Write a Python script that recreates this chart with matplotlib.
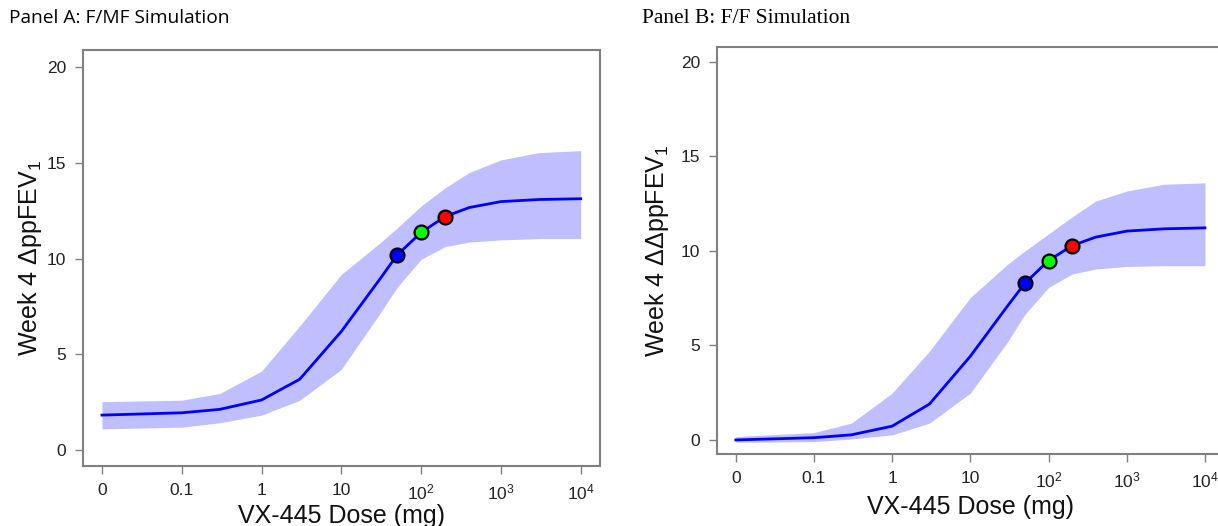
import numpy as np
import matplotlib
matplotlib.use('Agg')
import matplotlib.pyplot as plt
from matplotlib.ticker import NullLocator

plt.rcParams['font.family'] = ['Liberation Sans', 'DejaVu Sans']
plt.rcParams['mathtext.fontset'] = 'custom'
plt.rcParams['mathtext.rm'] = 'Liberation Sans'

# doses (mg); 0 is drawn at the 0.01 position of the log axis
dose = [0, 0.1, 0.3, 1, 3, 10, 30, 50, 100, 200, 400, 1000, 3000, 10000]

# Panel A: F/MF
a_mean = [1.83, 1.95, 2.13, 2.62, 3.70, 6.20, 8.90, 10.19, 11.37, 12.20, 12.67, 12.98, 13.09, 13.13]
a_lo = [1.11, 1.20, 1.43, 1.83, 2.60, 4.22, 7.10, 8.50, 9.97, 10.63, 10.87, 10.98, 11.05, 11.05]
a_hi = [2.53, 2.61, 2.96, 4.13, 6.48, 9.18, 10.80, 11.60, 12.75, 13.70, 14.50, 15.16, 15.54, 15.64]

# Panel B: F/F
b_mean = [0.00, 0.12, 0.27, 0.73, 1.90, 4.43, 7.10, 8.30, 9.49, 10.28, 10.73, 11.05, 11.17, 11.22]
b_lo = [-0.12, -0.09, 0.05, 0.27, 0.89, 2.48, 5.20, 6.65, 8.07, 8.78, 9.04, 9.18, 9.22, 9.22]
b_hi = [0.18, 0.39, 0.89, 2.48, 4.70, 7.54, 9.30, 10.00, 10.90, 11.80, 12.64, 13.17, 13.53, 13.60]

# highlighted doses and their colours
mark_dose = [50, 100, 200]
mark_col = ['#0000ff', '#00ff00', '#ff0000']

xticks = [0.01, 0.1, 1, 10, 100, 1000, 10000]
xlabels = ['0', '0.1', '1', '10', r'$\mathregular{10^2}$', r'$\mathregular{10^3}$', r'$\mathregular{10^4}$']

fig = plt.figure(figsize=(12.18, 5.26), dpi=100)
axA = fig.add_axes([0.068, 0.114, 0.4245, 0.791])
axB = fig.add_axes([0.5887, 0.137, 0.416, 0.774])

x = np.where(np.array(dose) == 0, 0.01, np.array(dose, dtype=float))


def draw(ax, mean, lo, hi, ylab, ylim, ypad, xpad):
    ax.fill_between(x, lo, hi, color='#bfbfff', lw=0)
    ax.plot(x, mean, color='#0000ff', lw=2)
    for d, c in zip(mark_dose, mark_col):
        ax.plot(d, mean[dose.index(d)], 'o', ms=10, mfc=c, mec='black', mew=1.6, zorder=5)
    ax.set_xscale('log')
    ax.set_xlim(10 ** -2.24, 10 ** 4.24)
    ax.set_ylim(*ylim)
    ax.set_xticks(xticks)
    ax.set_xticklabels(xlabels)
    ax.xaxis.set_minor_locator(NullLocator())
    ax.set_yticks([0, 5, 10, 15, 20])
    ax.tick_params(direction='out', length=6, width=1, color='#808080', labelsize=12.5,
                   labelcolor='#222222', pad=6)
    for s in ax.spines.values():
        s.set_color('#808080')
        s.set_linewidth(1.5)
    ax.set_xlabel('VX-445 Dose (mg)', fontsize=18, color='#111111', labelpad=xpad)
    ax.set_ylabel(ylab, fontsize=18, color='#111111', labelpad=ypad)


draw(axA, a_mean, a_lo, a_hi, r'Week 4 $\mathregular{\Delta}$ppFEV$\mathregular{_1}$',
     (-0.83, 20.9), 2, 1)
draw(axB, b_mean, b_lo, b_hi, r'Week 4 $\mathregular{\Delta\Delta}$ppFEV$\mathregular{_1}$',
     (-0.74, 20.8), 7, 3)

fig.text(0.007, 0.965, 'Panel A: F/MF Simulation', fontsize=13.8, family='Open Sans', va='center')
fig.text(0.527, 0.965, 'Panel B: F/F Simulation', fontsize=15.5, family='Liberation Serif', va='center')

fig.savefig('out.png', dpi=100)
